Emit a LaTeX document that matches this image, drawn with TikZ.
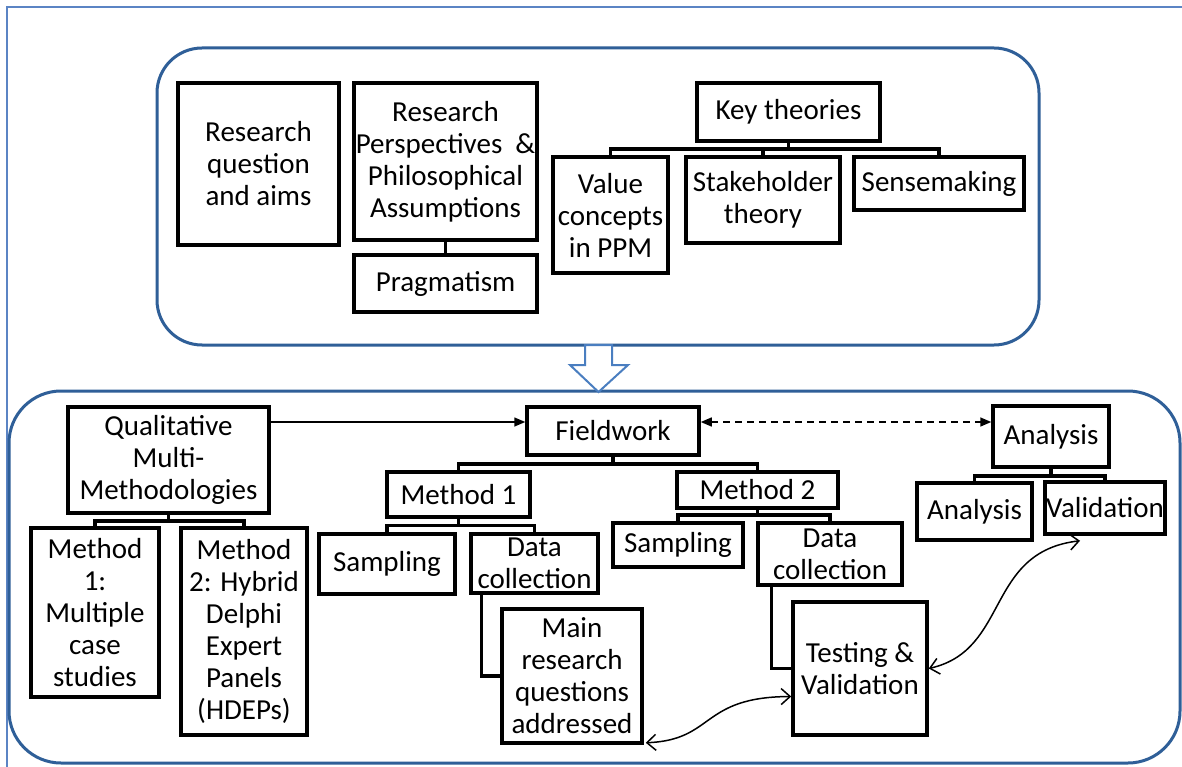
\documentclass[tikz,border=0pt]{standalone}
\usepackage{fontspec}
\setmainfont{Carlito}
\usetikzlibrary{arrows.meta}

\definecolor{panelblue}{HTML}{2F5F98}
\definecolor{frameblue}{HTML}{5B84C4}
\definecolor{arrowblue}{HTML}{4A7EC0}

\tikzset{
  box/.style={draw=black, line width=3.5pt, fill=white, inner sep=0pt,
    align=center, font=\fontsize{29}{32}\selectfont},
  conn/.style={draw=black, line width=3.5pt, line join=miter},
  thin/.style={draw=black, line width=1.5pt},
  solidhead/.style={-{Triangle[length=11pt,width=9pt]}},
  bothsolid/.style={{Triangle[length=11pt,width=9pt]}-{Triangle[length=11pt,width=9pt]}},
  bothbarb/.style={{Straight Barb[length=9pt,width=16pt]}-{Straight Barb[length=9pt,width=16pt]}},
  panel/.style={draw=panelblue, line width=3pt},
  frame/.style={draw=frameblue, line width=1.5pt}
}

\begin{document}
\begin{tikzpicture}[x=1pt,y=-1pt]
\useasboundingbox (0,0) rectangle (1182,767);
\fill[white] (0,0) rectangle (1182,767);

% outer frame
\draw[frame] (7,780) -- (7,7) -- (1195,7);

% the two panels
\draw[panel, rounded corners=45pt] (157,48) rectangle (1039,345);
\draw[panel, rounded corners=52pt] (9,391) rectangle (1180,763);

% hollow arrow between the panels
\draw[draw=arrowblue, line width=2pt, fill=white, line join=miter]
  (585,345) -- (612,345) -- (612,365) -- (628,365) -- (598.5,392)
  -- (570,365) -- (585,365) -- cycle;

% ---------- upper panel ----------
\node[box, minimum width=161pt, minimum height=162pt] (rq) at (258.5,164)
  {Research\\question\\and aims};
\node[box, minimum width=183pt, minimum height=157pt] (persp) at (445.5,161.5)
  {Research\\Perspectives \ \&\\Philosophical\\Assumptions};
\node[box, minimum width=183pt, minimum height=57pt] (prag) at (445.5,283.5)
  {Pragmatism};
\node[box, minimum width=183pt, minimum height=58pt] (key) at (788.5,112)
  {Key theories};
\node[box, minimum width=115pt, minimum height=116pt] (value) at (610.5,215)
  {Value\\concepts\\in PPM};
\node[box, minimum width=154pt, minimum height=86pt] (stake) at (763,200)
  {Stakeholder\\theory};
\node[box, minimum width=170pt, minimum height=53pt] (sense) at (939,183.5)
  {Sensemaking};

\draw[conn] (persp.south) -- (prag.north);
\coordinate (kj) at (788.5,149);
\draw[conn] (key.south) -- (kj);
\draw[conn] (value.north) |- (kj) -| (sense.north);
\draw[conn] (kj -| stake.north) -- (stake.north);

% ---------- lower panel ----------
\node[box, minimum width=201pt, minimum height=106pt] (qm) at (168.5,460)
  {Qualitative\\Multi-\\Methodologies};
\node[box, minimum width=128pt, minimum height=169pt] (mcs) at (95,612.5)
  {Method\\1:\\Multiple\\case\\studies};
\node[box, minimum width=126pt, minimum height=207pt] (hdep) at (244,631.5)
  {Method\\2: Hybrid\\Delphi\\Expert\\Panels\\(HDEPs)};

\coordinate (qj) at (168.5,521);
\draw[conn] (qm.south) -- (qj);
\draw[conn] (mcs.north) |- (qj) -| (hdep.north);

\node[box, minimum width=172pt, minimum height=48pt] (field) at (613,431)
  {Fieldwork};
\node[box, minimum width=143pt, minimum height=45pt] (meth1) at (458.5,494.5)
  {Method 1};
\node[box, minimum width=161pt, minimum height=36pt] (meth2) at (757.5,490)
  {Method 2};

\coordinate (fj) at (613,464);
\draw[conn] (field.south) -- (fj);
\draw[conn] (meth1.north) |- (fj) -| (meth2.north);

\node[box, minimum width=136pt, minimum height=60pt] (samp1) at (387,564)
  {Sampling};
\node[box, minimum width=127pt, minimum height=59pt] (dc1) at (534.5,563.5)
  {Data\\collection};
\coordinate (m1j) at (458.5,525.5);
\draw[conn] (meth1.south) -- (m1j);
\draw[conn] (samp1.north) |- (m1j) -| (dc1.north);

\node[box, minimum width=130pt, minimum height=44pt] (samp2) at (678,545)
  {Sampling};
\node[box, minimum width=144pt, minimum height=62pt] (dc2) at (830,554)
  {Data\\collection};
\coordinate (m2j) at (757.5,515);
\draw[conn] (meth2.south) -- (m2j);
\draw[conn] (samp2.north) |- (m2j) -| (dc2.north);

\node[box, minimum width=140pt, minimum height=134pt] (main) at (572,676)
  {Main\\research\\questions\\addressed};
\node[box, minimum width=134pt, minimum height=133pt] (test) at (860,668.5)
  {Testing \&\\Validation};

\draw[conn] ([xshift=12pt]dc1.south west) |- (main.west);
\draw[conn] ([xshift=15pt]dc2.south west) |- (test.west);

\node[box, minimum width=116pt, minimum height=61pt] (ana) at (1051,436.5)
  {Analysis};
\node[box, minimum width=115pt, minimum height=57pt] (ana2) at (974.5,511.5)
  {Analysis};
\node[box, minimum width=120pt, minimum height=52pt] (val) at (1105,508)
  {Validation};
\coordinate (aj) at (1051,476);
\draw[conn] (ana.south) -- (aj);
\draw[conn] (ana2.north) |- (aj) -| (val.north);

% flow between the stages
\draw[thin, solidhead] ([yshift=38pt]qm.east) -- ([yshift=9pt]field.west);
\draw[thin, bothsolid, dash pattern=on 7pt off 5pt]
  ([yshift=9pt]field.east) -- ([yshift=14.5pt]ana.west);

% feedback loops
\coordinate (mq) at ([xshift=2pt,yshift=2pt]main.south east);
\coordinate (tv) at ([yshift=-28pt]test.west);
\draw[thin, bothbarb] (mq) .. controls (715,740) and (700,697) .. (tv);
\coordinate (vb) at ([xshift=-25pt,yshift=-5pt]val.south);
\draw[thin, bothbarb] (test.east) .. controls (1010,650) and (985,552) .. (vb);
\end{tikzpicture}
\end{document}
